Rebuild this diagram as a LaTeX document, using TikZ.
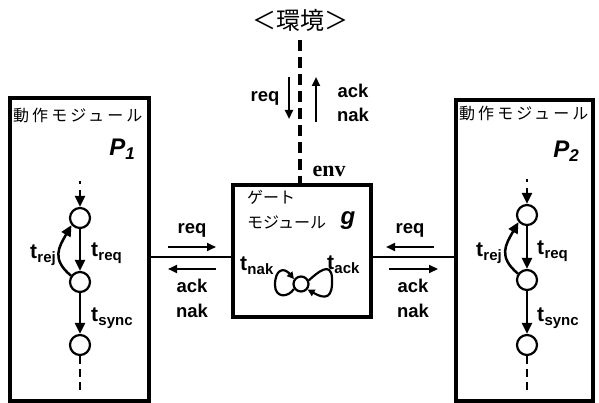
\documentclass[tikz,border=0pt]{standalone}
\usepackage{fontspec}
\setmainfont{Liberation Sans}
\newfontfamily\jpf{Noto Sans CJK JP}
\newfontfamily\jpwide{Noto Sans CJK JP}[LetterSpace=19]
\newfontfamily\envf{Liberation Serif}
\usetikzlibrary{arrows.meta}
\newcommand\tl[1]{{\fontsize{21}{21}\selectfont t}\kern0.3pt\raisebox{-4pt}{\fontsize{15}{15}\selectfont #1}}
\tikzset{
  modbox/.style={draw, line width=3.5pt, inner sep=0pt},
  state/.style={circle, draw, line width=2.2pt, minimum size=20pt, inner sep=0pt},
  gstate/.style={circle, draw, line width=2.2pt, minimum size=15pt, inner sep=0pt},
  arr/.style={line width=2.5pt, -{Triangle[length=11pt,width=10pt]}},
  sig/.style={line width=2.2pt, -{Triangle[length=9pt,width=8pt]}},
  loopa/.style={line width=2.2pt, -{Triangle[length=7pt,width=7pt]}},
  lab/.style={font=\fontsize{18.5}{18.5}\selectfont\bfseries, inner sep=0pt},
  jlab/.style={font=\jpf\fontsize{16}{16}\selectfont, inner sep=0pt},
  jwlab/.style={font=\jpwide\fontsize{16}{16}\selectfont, inner sep=0pt},
  pname/.style={font=\fontsize{24}{24}\selectfont\bfseries\itshape, inner sep=0pt},
  conn/.style={line width=2.8pt},
  chaindash/.style={line width=2.8pt, dash pattern=on 8pt off 5pt},
}
\begin{document}
\begin{tikzpicture}[x=1pt,y=-1pt]
\useasboundingbox (0,0) rectangle (599,403);
% title
\node[font=\jpf\fontsize{24}{24}\selectfont, inner sep=0pt] (title) at (300,20) {＜環境＞};
% boxes
\node[modbox, minimum width=139pt, minimum height=303pt] (P1box) at (79.5,249.5) {};
\node[modbox, minimum width=137pt, minimum height=301pt] (P2box) at (524.5,250.5) {};
\node[modbox, minimum width=138pt, minimum height=132pt] (gate) at (302,251) {};
% env line
\coordinate (envtop) at (300,40);
\draw[line width=3.5pt, dash pattern=on 11pt off 6pt] (envtop) -- (gate.north -| envtop);
\node[font=\envf\fontsize{22}{22}\selectfont\bfseries, inner sep=0pt] (envl) at (329,171) {env};
% env signals
\coordinate (rqa) at (289,77); \coordinate (rqb) at (289,119);
\draw[sig] (rqa) -- (rqb);
\node[lab] (rqenv) at (265,98) {req};
\coordinate (aka) at (316,122); \coordinate (akb) at (316,77);
\draw[sig] (aka) -- (akb);
\node[lab] (akenv) at (353,91) {ack};
\node[lab] (nkenv) at (353,115) {nak};
% connectors
\coordinate (lj) at (150,257);
\draw[conn] (P1box.east |- lj) -- (gate.west |- lj);
\draw[conn] (gate.east |- lj) -- (P2box.west |- lj);
% left signals
\coordinate (l1a) at (168,247); \coordinate (l1b) at (216,247);
\draw[sig] (l1a) -- (l1b);
\node[lab] (lreq) at (192,230) {req};
\coordinate (l2a) at (216,269); \coordinate (l2b) at (168,269);
\draw[sig] (l2a) -- (l2b);
\node[lab] (lack) at (192,286) {ack};
\node[lab] (lnak) at (192,311) {nak};
% right signals
\coordinate (r1a) at (434,247); \coordinate (r1b) at (386,247);
\draw[sig] (r1a) -- (r1b);
\node[lab] (rreq) at (410,230) {req};
\coordinate (r2a) at (389,269); \coordinate (r2b) at (438,269);
\draw[sig] (r2a) -- (r2b);
\node[lab] (rack) at (413,286) {ack};
\node[lab] (rnak) at (413,311) {nak};
% module titles
\node[jwlab, anchor=west] (P1t) at (13,115) {動作モジュール};
\node[jwlab, anchor=west] (P2t) at (459,113) {動作モジュール};
\node[pname] (P1n) at (122,149) {P\raisebox{-4pt}{\fontsize{17}{17}\selectfont 1}};
\node[pname] (P2n) at (566,151) {P\raisebox{-4pt}{\fontsize{17}{17}\selectfont 2}};
% gate text
\node[jlab, anchor=west] (gt1) at (247,197) {ゲート};
\node[jlab, anchor=west] (gt2) at (247,222) {モジュール};
\node[pname] (gn) at (348,221) {g};
% gate loops
\node[gstate] (g0) at (301,284) {};
\draw[loopa] (g0.215) .. controls (288,298) and (275,298) .. (275,285)
   .. controls (275,269) and (284,267) .. (g0.145);
\draw[loopa] (g0.25) .. controls (318,272) and (331,261) .. (332,278)
   .. controls (333,298) and (326,300) .. (g0.-40);
\node[lab, anchor=west] (tnak) at (240,266) {\tl{nak}};
\node[lab, anchor=west] (tack) at (327,265) {\tl{ack}};
% left chain
\node[state] (l1) at (80,218) {};
\node[state] (l2) at (80,282) {};
\node[state] (l3) at (80,345) {};
\coordinate (ltop) at (80,181);
\coordinate (lbot) at (80,393);
\draw[arr, dash pattern=on 3pt off 6pt on 40pt] (ltop) -- (l1.north);
\draw[arr] (l1.south) -- (l2.north);
\draw[arr] (l2.south) -- (l3.north);
\draw[arr] (l2.145) to[out=140,in=240,looseness=1.3] (l1.220);
\draw[chaindash] (l3.south) -- (lbot);
\node[lab] (lrej) at (43,255) {\tl{rej}};
\node[lab, anchor=west] (lreqt) at (91,253) {\tl{req}};
\node[lab, anchor=west] (lsync) at (91,318) {\tl{sync}};
% right chain
\node[state] (r1) at (527,215) {};
\node[state] (r2) at (527,280) {};
\node[state] (r3) at (527,345) {};
\coordinate (rtop) at (527,179);
\coordinate (rbot) at (527,393);
\draw[arr, dash pattern=on 3pt off 6pt on 40pt] (rtop) -- (r1.north);
\draw[arr] (r1.south) -- (r2.north);
\draw[arr] (r2.south) -- (r3.north);
\draw[arr] (r2.145) to[out=140,in=240,looseness=1.3] (r1.220);
\draw[chaindash] (r3.south) -- (rbot);
\node[lab] (rrej) at (489,253) {\tl{rej}};
\node[lab, anchor=west] (rreqt) at (537,251) {\tl{req}};
\node[lab, anchor=west] (rsync) at (537,318) {\tl{sync}};
\end{tikzpicture}
\end{document}
